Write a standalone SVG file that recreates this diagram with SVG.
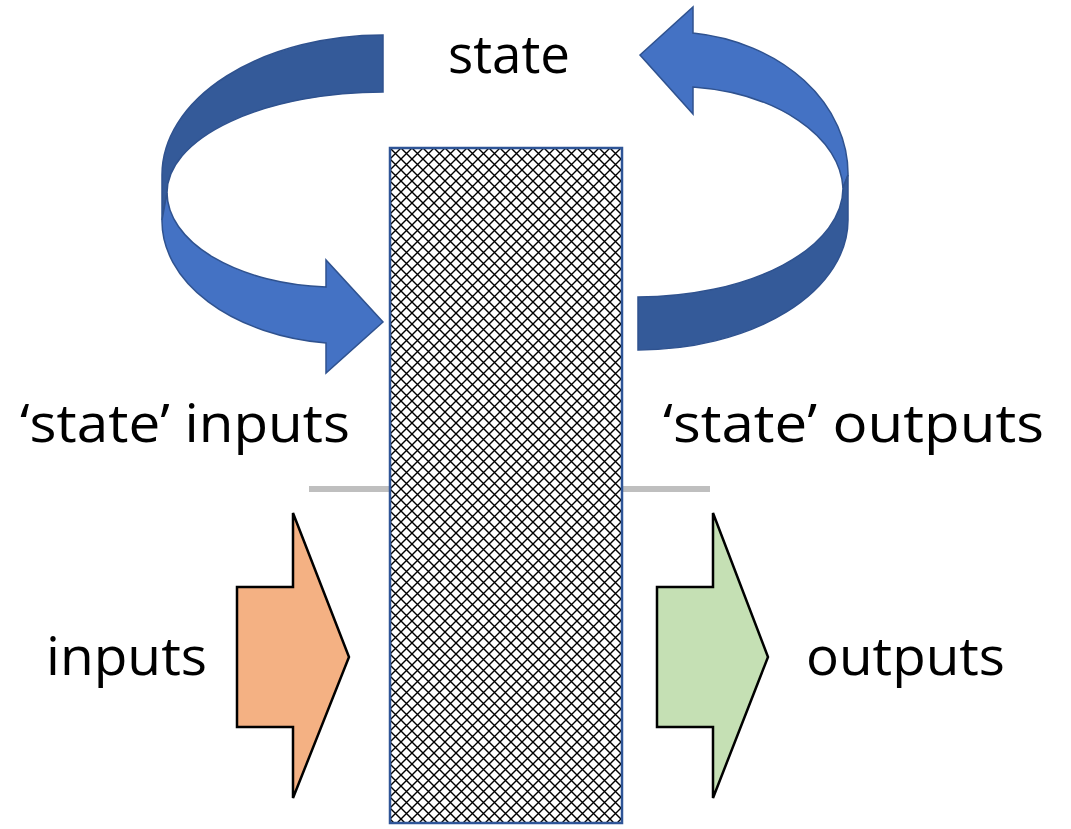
<svg xmlns="http://www.w3.org/2000/svg" width="1071" height="829" viewBox="0 0 1071 829">
<style>
.lbl{font-family:"Open Sans","Noto Sans","Liberation Sans",sans-serif;font-size:53px;fill:#000}
.dark{fill:#345A99;stroke:#2F528F;stroke-width:1.5;stroke-linejoin:miter}
.light{fill:#4472C4;stroke:#2F528F;stroke-width:1.5;stroke-linejoin:miter}
.blk{stroke:#000;stroke-width:2.5;stroke-linejoin:miter}
</style>
<defs>
<pattern id="hatch" patternUnits="userSpaceOnUse" x="390" y="148" width="11" height="11">
<rect width="11" height="11" fill="#fff"/>
<path d="M0,0 L11,11 M11,0 L0,11" stroke="#000" stroke-width="1.4" fill="none"/>
</pattern>
</defs>
<rect width="1071" height="829" fill="#fff"/>
<g id="connectors">
<line id="divider" x1="309" y1="489" x2="710" y2="489" stroke="#BFBFBF" stroke-width="6"/>
</g>
<g id="state-in-arrow">
<path class="dark" d="M383,35 A221,140 0 0 0 162,175 L162,220 L167,193 A216,101 0 0 1 383,92 Z"/>
<path class="light" d="M167,193 A170,95 0 0 0 326,287 L326,260 L383,322 L326,373 L326,343 A188,123 0 0 1 162,220 Z"/>
</g>
<g id="state-out-arrow">
<path class="light" d="M640,55 L693,7 L693,33 A178,142 0 0 1 848,175 L843,188 A170,105 0 0 0 693,87 L693,114 Z"/>
<path class="dark" d="M843,188 L848,175 L848,220 A210,130 0 0 1 638,350 L638,297 A205,109 0 0 0 843,188 Z"/>
</g>
<g id="block">
<rect x="390" y="148" width="232" height="675" fill="url(#hatch)" stroke="#2F5597" stroke-width="2.5"/>
</g>
<g id="inputs-arrow">
<path class="blk" fill="#F4B183" d="M293,513 L349,657 L293,798 L293,727 L237,727 L237,587 L293,587 Z"/>
</g>
<g id="outputs-arrow">
<path class="blk" fill="#C5E0B4" d="M713,513 L768,657 L713,798 L713,727 L657,727 L657,587 L713,587 Z"/>
</g>
<g id="labels">
<text class="lbl" x="448" y="73" textLength="122" lengthAdjust="spacingAndGlyphs">state</text>
<text class="lbl" x="20" y="442" textLength="330" lengthAdjust="spacingAndGlyphs">‘state’ inputs</text>
<text class="lbl" x="663" y="442" textLength="381" lengthAdjust="spacingAndGlyphs">‘state’ outputs</text>
<text class="lbl" x="46" y="675" textLength="161" lengthAdjust="spacingAndGlyphs">inputs</text>
<text class="lbl" x="806" y="675" textLength="199" lengthAdjust="spacingAndGlyphs">outputs</text>
</g>
</svg>
